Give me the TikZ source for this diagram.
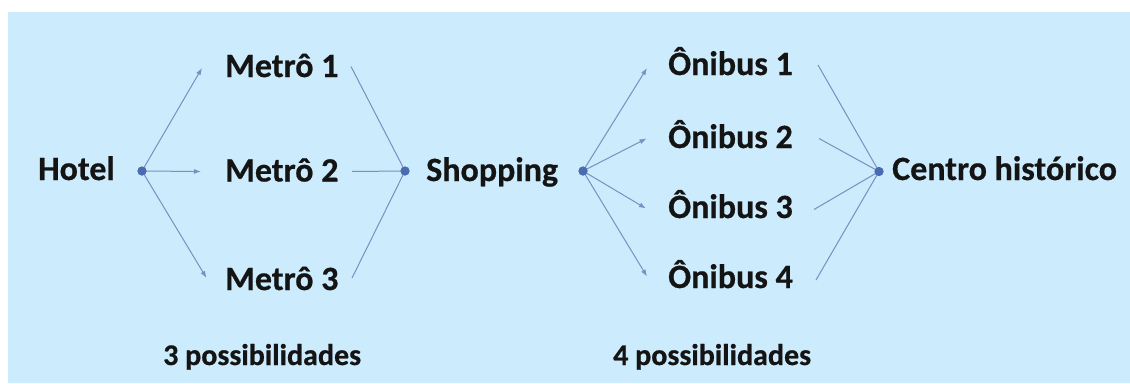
\documentclass[tikz,border=0pt]{standalone}
\usepackage{fontspec}
\setmainfont{Carlito}[BoldFeatures={FakeBold=0.6}]
\usetikzlibrary{arrows.meta}
\definecolor{bgblue}{HTML}{CCEBFC}
\definecolor{linec}{HTML}{7A8FBF}
\definecolor{dotc}{HTML}{4A6BB0}
\definecolor{txtc}{HTML}{141414}
\tikzset{
  lbl/.style={inner sep=0pt, anchor=base west, text=txtc, font=\fontsize{34}{37}\selectfont\bfseries},
  sublbl/.style={inner sep=0pt, anchor=base west, text=txtc, font=\fontsize{30}{33}\selectfont\bfseries},
  dotn/.style={circle, fill=dotc, inner sep=0pt, minimum size=9pt},
  arr/.style={draw=linec, line width=1pt, -{Latex[length=7pt,width=5pt]}},
  ln/.style={draw=linec, line width=1pt},
}
\begin{document}
\begin{tikzpicture}[x=1pt,y=-1pt]
\useasboundingbox (0,0) rectangle (1130,383);
\fill[bgblue] (8,12) rectangle (1130,383);

% text nodes
\node[lbl] (hotel) at (38,180) {Hotel};
\node[lbl] (m1) at (225,77) {Metrô 1};
\node[lbl] (m2) at (225,181.5) {Metrô 2};
\node[lbl] (m3) at (225,290) {Metrô 3};
\node[lbl] (shop) at (426,181) {Shopping};
\node[lbl] (o1) at (668,75) {Ônibus 1};
\node[lbl] (o2) at (668,148) {Ônibus 2};
\node[lbl] (o3) at (668,218) {Ônibus 3};
\node[lbl] (o4) at (668,288) {Ônibus 4};
\node[lbl] (centro) at (892,180) {Centro histórico};
\node[sublbl] (p3) at (163,365) {3 possibilidades};
\node[sublbl] (p4) at (613,365) {4 possibilidades};

% dots
\node[dotn] (hd) at (142,171) {};
\node[dotn] (sin) at (405,171) {};
\node[dotn] (sout) at (583,171) {};
\node[dotn] (cd) at (879,171.5) {};

% arrow tips and line starts
\coordinate (m1in) at (202,68);
\coordinate (m2in) at (201,171.5);
\coordinate (m3in) at (206.5,278);
\coordinate (m1out) at (351,66.5);
\coordinate (m2out) at (352,171.5);
\coordinate (m3out) at (352,278);
\coordinate (o1in) at (647,68);
\coordinate (o2in) at (646.5,138.5);
\coordinate (o3in) at (646,208.5);
\coordinate (o4in) at (647,276.5);
\coordinate (o1out) at (818,65);
\coordinate (o2out) at (819,138.5);
\coordinate (o3out) at (814,209.5);
\coordinate (o4out) at (816,280);

% connectors
\draw[arr] (hd.center) -- (m1in);
\draw[arr] (hd.center) -- (m2in);
\draw[arr] (hd.center) -- (m3in);
\draw[ln] (m1out) -- (sin.center);
\draw[ln] (m2out) -- (sin.center);
\draw[ln] (m3out) -- (sin.center);
\draw[arr] (sout.center) -- (o1in);
\draw[arr] (sout.center) -- (o2in);
\draw[arr] (sout.center) -- (o3in);
\draw[arr] (sout.center) -- (o4in);
\draw[ln] (o1out) -- (cd.center);
\draw[ln] (o2out) -- (cd.center);
\draw[ln] (o3out) -- (cd.center);
\draw[ln] (o4out) -- (cd.center);
\foreach \d in {hd,sin,sout,cd} \fill[dotc] (\d) circle (4.5pt);
\end{tikzpicture}
\end{document}
